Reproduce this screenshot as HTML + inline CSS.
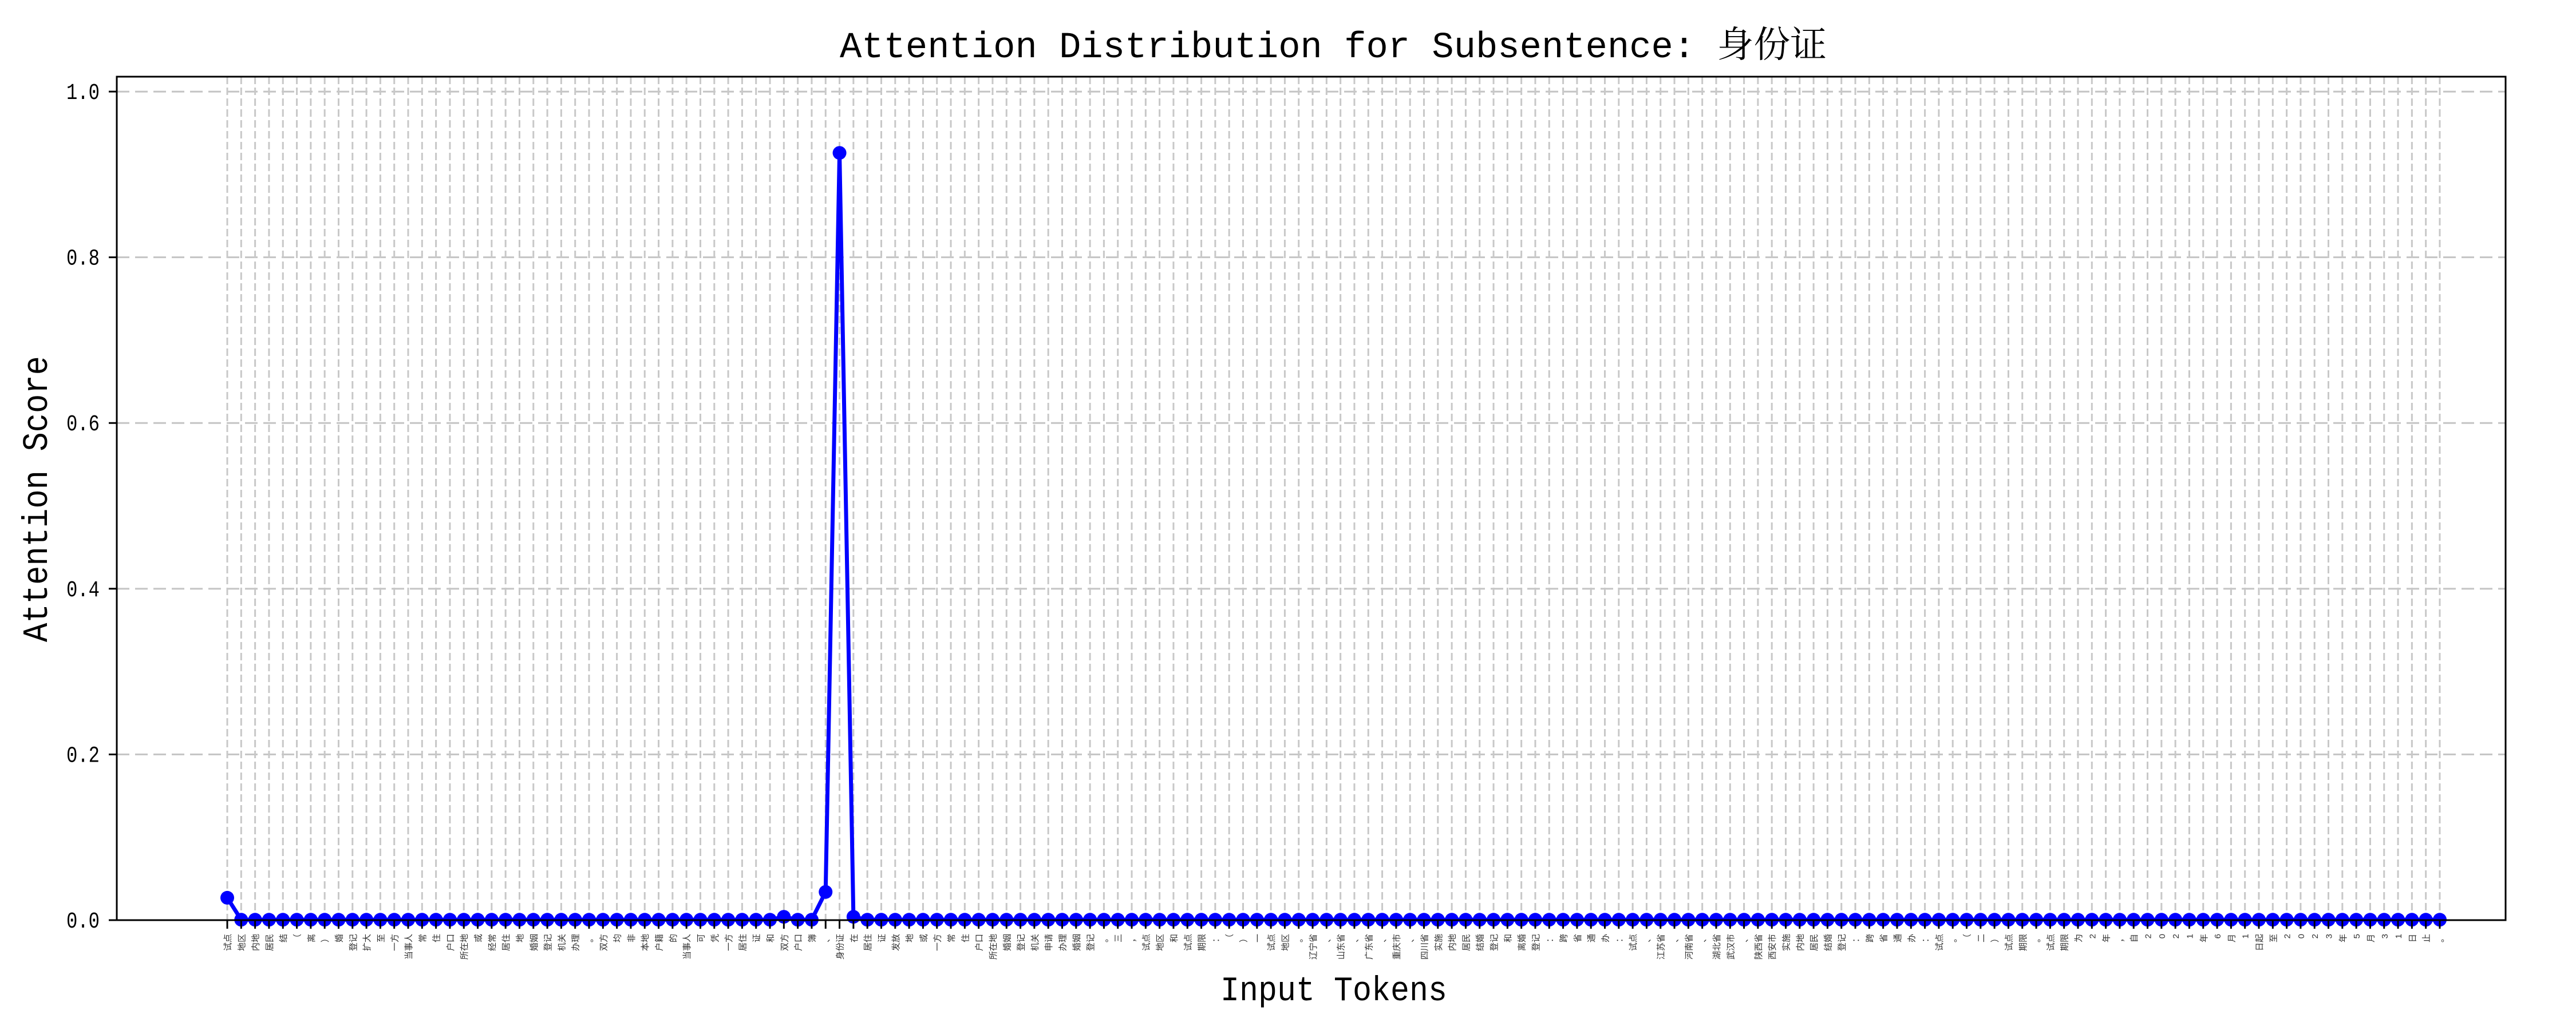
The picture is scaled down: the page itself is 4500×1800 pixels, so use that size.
<!DOCTYPE html>
<html><head><meta charset="utf-8"><style>
html,body{margin:0;padding:0;background:#fff;}
svg{display:block;}
</style></head><body>
<svg id="chart" width="4500" height="1800" xmlns="http://www.w3.org/2000/svg">
<rect x="0" y="0" width="4500" height="1800" fill="#fff"/>
<text x="2329" y="100" text-anchor="middle" font-family="Liberation Mono, 'Noto Serif CJK SC', monospace" font-size="64" textLength="1724" lengthAdjust="spacingAndGlyphs">Attention Distribution for Subsentence: 身份证</text>
<g id="grid"></g>
<g id="marks"></g>
<rect x="204" y="134" width="4173" height="1474" fill="none" stroke="#000" stroke-width="3"/>
<g id="axes"></g>
<text transform="translate(82,872) rotate(-90)" text-anchor="middle" font-family="Liberation Mono, monospace" font-size="62" textLength="500" lengthAdjust="spacingAndGlyphs">Attention Score</text>
<text x="2330" y="1748" text-anchor="middle" font-family="Liberation Mono, monospace" font-size="60" textLength="396" lengthAdjust="spacingAndGlyphs">Input Tokens</text>
</svg>
<script>
const tokens = ["试点","地区","内地","居民","结","（","离","）","婚","登记","扩大","至","一方","当事人","常","住","户口","所在地","或","经常","居住","地","婚姻","登记","机关","办理","。","双方","均","非","本地","户籍","的","当事人","可","凭","一方","居住","证","和","双方","户口","簿","、","身份证","在","居住","证","发放","地","或","一方","常","住","户口","所在地","婚姻","登记","机关","申请","办理","婚姻","登记","。","三","，","试点","地区","和","试点","期限","：","（","）","一","试点","地区","。","辽宁省","、","山东省","、","广东省","、","重庆市","、","四川省","实施","内地","居民","结婚","登记","和","离婚","登记","：","跨","省","通","办","：","试点","、","江苏省","、","河南省","、","湖北省","武汉市","、","陕西省","西安市","实施","内地","居民","结婚","登记","：","跨","省","通","办","：","试点","。","（","二","）","试点","期限","。","试点","期限","为","2","年","，","自","2","0","2","1","年","6","月","1","日起","至","2","0","2","3","年","5","月","3","1","日","止","。"];
const baseScore = 0.0005;
const specialIdx = [0, 40, 43, 44, 45];
const specialVal = [0.027, 0.004, 0.034, 0.926, 0.004];
const yTicks = [0.0, 0.2, 0.4, 0.6, 0.8, 1.0];
const yTickLabels = ["0.0","0.2","0.4","0.6","0.8","1.0"];

const values = tokens.map(() => baseScore);
specialIdx.forEach((k, j) => { values[k] = specialVal[j]; });

const NS = "http://www.w3.org/2000/svg";
const PL = 204, PR = 4377, PT = 134, PB = 1608;
const n = tokens.length;
const step = (4262 - 397) / 159;
const xMin = -(397 - PL) / step;
const xMax = xMin + (PR - PL) / step;
const yMin = 0, yMax = 1.018;
function xs(i){ return PL + (i - xMin) / (xMax - xMin) * (PR - PL); }
function ys(v){ return PB - (v - yMin) / (yMax - yMin) * (PB - PT); }
function mk(tag, attrs, parent){ const e = document.createElementNS(NS, tag); for (const k in attrs) e.setAttribute(k, attrs[k]); parent.appendChild(e); return e; }

const grid = document.getElementById('grid');
const axes = document.getElementById('axes');
const marks = document.getElementById('marks');

yTicks.forEach((t, j) => {
  const y = ys(t);
  const g = mk('line', {x1: PL, x2: PR, y1: y, y2: y, stroke: '#c4c4c4', 'stroke-width': 3, 'stroke-dasharray': '22 10'}, grid);
  
  
  const tk = mk('line', {x1: PL - 14, x2: PL, y1: y, y2: y, stroke: '#000', 'stroke-width': 3}, axes);
  
  
  const tl = mk('text', {x: 174, y: y + 13, 'text-anchor': 'end', 'font-family': 'Liberation Mono, monospace', 'font-size': 40, textLength: 58, lengthAdjust: 'spacingAndGlyphs'}, axes);
  tl.textContent = yTickLabels[j];
  
  
});

tokens.forEach((tok, i) => {
  const x = xs(i);
  const g = mk('line', {x1: x, x2: x, y1: PT, y2: PB, stroke: '#c8c8c8', 'stroke-width': 3, 'stroke-dasharray': '13 6'}, grid);
  
  
  const tk = mk('line', {x1: x, x2: x, y1: PB, y2: PB + 15, stroke: '#000', 'stroke-width': 3}, axes);
  
  
  const tl = mk('text', {transform: 'translate(' + (x + 6) + ',' + (PB + 24) + ') rotate(-90)', 'text-anchor': 'end', 'font-family': 'Liberation Sans, "Noto Sans CJK SC", sans-serif', 'font-size': 15, fill: '#333'}, axes);
  tl.textContent = tok;
  
  
});

const pts = values.map((v, i) => xs(i) + ',' + ys(v)).join(' ');
const line = mk('polyline', {points: pts, fill: 'none', stroke: '#0000ff', 'stroke-width': 7, 'stroke-linejoin': 'round'}, marks);


values.forEach((v, i) => {
  const c = mk('circle', {cx: xs(i), cy: ys(v), r: 12, fill: '#0000ff'}, marks);
  
  
});
</script>
</body></html>
